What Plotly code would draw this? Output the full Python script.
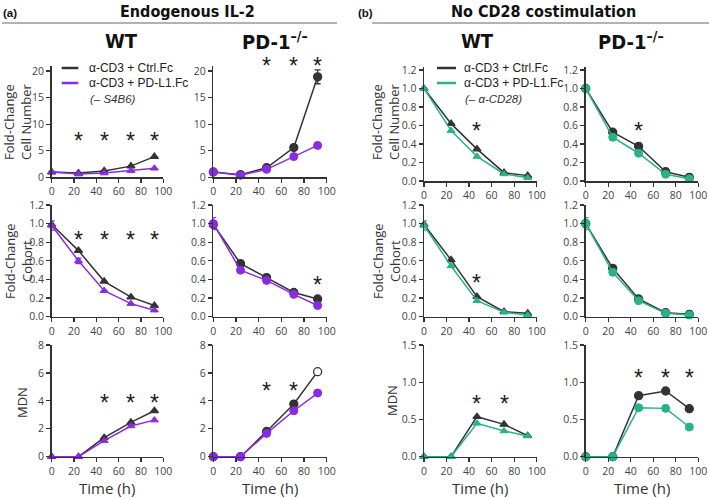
import plotly.graph_objects as go

W, H = 709, 498

TIME = [0, 24, 47, 71, 92]

# (a) Endogenous IL-2
a_wt_cell_ctrl = [1.0, 0.8, 1.2, 2.1, 3.9]
a_wt_cell_pdl1 = [1.0, 0.6, 0.8, 1.25, 1.7]
a_pd_cell_ctrl = [1.0, 0.5, 1.8, 5.6, 18.9]
a_pd_cell_ctrl_err = [0, 0, 0, 0, 1.3]
a_pd_cell_pdl1 = [1.0, 0.4, 1.5, 3.9, 6.0]
a_wt_coh_ctrl = [0.99, 0.71, 0.38, 0.21, 0.12]
a_wt_coh_pdl1 = [0.98, 0.60, 0.28, 0.14, 0.07]
a_wt_coh_pdl1_err = [0.05, 0.03, 0, 0, 0]
a_pd_coh_ctrl = [0.99, 0.57, 0.42, 0.26, 0.19]
a_pd_coh_pdl1 = [1.0, 0.50, 0.39, 0.24, 0.12]
a_pd_coh_pdl1_err = [0.065, 0.02, 0, 0, 0]
a_wt_mdn_ctrl = [0, 0, 1.36, 2.46, 3.29]
a_wt_mdn_pdl1 = [0, 0, 1.15, 2.2, 2.62]
a_pd_mdn_ctrl = [0, 0, 1.81, 3.77, 6.09]
a_pd_mdn_pdl1 = [0, 0, 1.67, 3.29, 4.56]

# (b) No CD28 costimulation
b_wt_cell_ctrl = [1.0, 0.62, 0.345, 0.09, 0.058]
b_wt_cell_pdl1 = [1.0, 0.545, 0.265, 0.076, 0.036]
b_pd_cell_ctrl = [1.0, 0.527, 0.375, 0.10, 0.04]
b_pd_cell_pdl1 = [1.0, 0.473, 0.30, 0.073, 0.025]
b_wt_coh_ctrl = [0.99, 0.61, 0.215, 0.054, 0.036]
b_wt_coh_pdl1 = [0.98, 0.545, 0.172, 0.047, 0.018]
b_wt_coh_pdl1_err = [0.05, 0, 0, 0, 0]
b_pd_coh_ctrl = [1.0, 0.52, 0.19, 0.043, 0.025]
b_pd_coh_pdl1 = [1.0, 0.477, 0.172, 0.036, 0.018]
b_pd_coh_pdl1_err = [0.065, 0, 0, 0, 0]
b_wt_mdn_ctrl = [0, 0, 0.537, 0.434, 0.282]
b_wt_mdn_pdl1 = [0, 0, 0.448, 0.345, 0.278]
b_pd_mdn_ctrl = [0, 0, 0.82, 0.882, 0.645]
b_pd_mdn_pdl1 = [0, 0, 0.658, 0.649, 0.399]

# significance asterisks: (x positions, y level)
STARS = {
    ("a", "wt", "cell"): ([24, 47, 71, 92], 7.7),
    ("a", "pd", "cell"): ([47, 71, 92], 21.8),
    ("a", "wt", "coh"): ([24, 47, 71, 92], 0.88),
    ("a", "pd", "coh"): ([92], 0.39),
    ("a", "wt", "mdn"): ([47, 71, 92], 4.2),
    ("a", "pd", "mdn"): ([47, 71], 5.06),
    ("b", "wt", "cell"): ([47], 0.59),
    ("b", "pd", "cell"): ([47], 0.59),
    ("b", "wt", "coh"): ([47], 0.42),
    ("b", "wt", "mdn"): ([47, 71], 0.775),
    ("b", "pd", "mdn"): ([47, 71, 92], 1.12),
}

DATA = {
    ("a", "wt", "cell"): (a_wt_cell_ctrl, a_wt_cell_pdl1, None, None),
    ("a", "pd", "cell"): (a_pd_cell_ctrl, a_pd_cell_pdl1, a_pd_cell_ctrl_err, None),
    ("a", "wt", "coh"): (a_wt_coh_ctrl, a_wt_coh_pdl1, None, a_wt_coh_pdl1_err),
    ("a", "pd", "coh"): (a_pd_coh_ctrl, a_pd_coh_pdl1, None, a_pd_coh_pdl1_err),
    ("a", "wt", "mdn"): (a_wt_mdn_ctrl, a_wt_mdn_pdl1, None, None),
    ("a", "pd", "mdn"): (a_pd_mdn_ctrl, a_pd_mdn_pdl1, None, None),
    ("b", "wt", "cell"): (b_wt_cell_ctrl, b_wt_cell_pdl1, None, None),
    ("b", "pd", "cell"): (b_pd_cell_ctrl, b_pd_cell_pdl1, None, None),
    ("b", "wt", "coh"): (b_wt_coh_ctrl, b_wt_coh_pdl1, None, b_wt_coh_pdl1_err),
    ("b", "pd", "coh"): (b_pd_coh_ctrl, b_pd_coh_pdl1, None, b_pd_coh_pdl1_err),
    ("b", "wt", "mdn"): (b_wt_mdn_ctrl, b_wt_mdn_pdl1, None, None),
    ("b", "pd", "mdn"): (b_pd_mdn_ctrl, b_pd_mdn_pdl1, None, None),
}

BLACK = "#333333"
PURPLE = "#8A2BE2"
GREEN = "#27B382"
GROUP_COLOR = {"a": PURPLE, "b": GREEN}

TICKFONT = dict(family="Open Sans, Noto Sans, sans-serif", size=10.5, color="#444")
LABFONT = dict(family="Open Sans, Noto Sans, sans-serif", size=13, color="#333")
NARROW = "Liberation Sans Narrow, Arial Narrow, DejaVu Sans Condensed, Liberation Sans, sans-serif"
LEGFONT = dict(family="Liberation Sans, Arial, sans-serif", size=12, color="#222")


def fx(px):
    return px / W


def fy(py):
    return 1 - py / H


COLS = {
    ("a", "wt"): (51.7, 163.3),
    ("a", "pd"): (213.3, 326.7),
    ("b", "wt"): (424.0, 536.7),
    ("b", "pd"): (585.7, 698.3),
}
# (bottom px, top px, range, dtick, tickformat)
ROWS = {
    ("a", "cell"): (177.3, 65.7, [0, 21], 5, None),
    ("b", "cell"): (181.0, 67.2, [0, 1.23], 0.2, ".1f"),
    ("a", "coh"): (316.7, 205.0, [0, 1.2], 0.2, ".1f"),
    ("b", "coh"): (316.7, 205.0, [0, 1.2], 0.2, ".1f"),
    ("a", "mdn"): (456.7, 345.0, [0, 8], 2, None),
    ("b", "mdn"): (456.7, 345.0, [0, 1.5], 0.5, ".1f"),
}

fig = go.Figure()
layout = {}
annotations = []
shapes = []

idx = 0
for g in ["a", "b"]:
    for c in ["wt", "pd"]:
        for r in ["cell", "coh", "mdn"]:
            idx += 1
            xa = "x" if idx == 1 else f"x{idx}"
            ya = "y" if idx == 1 else f"y{idx}"
            xkey = "xaxis" if idx == 1 else f"xaxis{idx}"
            ykey = "yaxis" if idx == 1 else f"yaxis{idx}"
            x0, x1 = COLS[(g, c)]
            yb, yt, yr, dt, tf = ROWS[(g, r)]
            axcommon = dict(
                showline=True, linewidth=1.5, linecolor=BLACK, showgrid=False,
                zeroline=False, ticks="outside", ticklen=4, tickwidth=1.2,
                tickcolor=BLACK, tickfont=TICKFONT, fixedrange=True,
                automargin=False,
            )
            layout[xkey] = dict(domain=[fx(x0), fx(x1)], range=[0, 100], dtick=20,
                                tick0=0, anchor=ya, **axcommon)
            yd = dict(domain=[fy(yb), fy(yt)], range=yr, dtick=dt, tick0=0,
                      anchor=xa, **axcommon)
            if tf:
                yd["tickformat"] = tf
            layout[ykey] = yd

            ctrl, pdl1, ectrl, epdl1 = DATA[(g, c, r)]
            sym = "triangle-up" if c == "wt" else "circle"
            msize = 7 if c == "wt" else 8
            col2 = GROUP_COLOR[g]
            mcolors = [BLACK] * len(TIME)
            if (g, c, r) == ("a", "pd", "mdn"):
                mcolors[-1] = "white"
            tr = dict(x=TIME, y=ctrl, xaxis=xa, yaxis=ya, mode="lines+markers",
                      line=dict(color=BLACK, width=1.5),
                      marker=dict(symbol=sym, size=msize, color=mcolors,
                                  line=dict(color=BLACK, width=1.3)),
                      cliponaxis=False, showlegend=False, hoverinfo="skip")
            if ectrl:
                tr["error_y"] = dict(type="data", array=ectrl, color=BLACK,
                                     thickness=1.3, width=3)
            fig.add_trace(go.Scatter(**tr))
            tr = dict(x=TIME, y=pdl1, xaxis=xa, yaxis=ya, mode="lines+markers",
                      line=dict(color=col2, width=1.5),
                      marker=dict(symbol=sym, size=msize, color=col2,
                                  line=dict(color=col2, width=1)),
                      cliponaxis=False, showlegend=False, hoverinfo="skip")
            if epdl1:
                tr["error_y"] = dict(type="data", array=epdl1, color=col2,
                                     thickness=1.3, width=3)
            fig.add_trace(go.Scatter(**tr))

            if (g, c, r) in STARS:
                xs, ylev = STARS[(g, c, r)]
                for xv in xs:
                    annotations.append(dict(
                        x=xv, y=(ylev - yr[0]) / (yr[1] - yr[0]),
                        xref=xa, yref=f"{ya} domain", text="*", showarrow=False,
                        font=dict(family="Liberation Sans, Arial, sans-serif",
                                  size=23, color="#222"),
                        xanchor="center", yanchor="middle", yshift=-5))

            if r == "mdn":
                annotations.append(dict(
                    x=fx((x0 + x1) / 2), y=fy(488), xref="paper", yref="paper",
                    text="Time (h)", showarrow=False,
                    font=dict(family=LABFONT["family"], size=15, color="#333"),
                    xanchor="center", yanchor="middle"))

YTITLES = [
    ("Fold-Change<br>Cell Number", 18, 122),
    ("Fold-Change<br>Cohort", 18, 261),
    ("MDN", 22, 403),
    ("Fold-Change<br>Cell Number", 386, 122),
    ("Fold-Change<br>Cohort", 386, 261),
    ("MDN", 392, 401),
]
for txt, px, py in YTITLES:
    annotations.append(dict(x=fx(px), y=fy(py), xref="paper", yref="paper",
                            text=txt, showarrow=False, textangle=-90,
                            font=LABFONT, xanchor="center", yanchor="middle"))

HEADERS = [
    ("<b>(a)</b>", 10, 13, 11.5, "Liberation Sans, Arial, sans-serif"),
    ("<b>Endogenous IL-2</b>", 188, 12, 16, NARROW),
    ("<b>(b)</b>", 365, 13, 11.5, "Liberation Sans, Arial, sans-serif"),
    ("<b>No CD28 costimulation</b>", 543, 12, 16, NARROW),
    ("<b>WT</b>", 121, 41, 20, NARROW),
    ("<b>PD-1<sup>–/–</sup></b>", 275, 41, 20, NARROW),
    ("<b>WT</b>", 478, 41, 20, NARROW),
    ("<b>PD-1<sup>–/–</sup></b>", 631, 41, 20, NARROW),
]
for txt, px, py, sz, fam in HEADERS:
    annotations.append(dict(x=fx(px), y=fy(py), xref="paper", yref="paper",
                            text=txt, showarrow=False,
                            font=dict(family=fam, size=sz, color="#111"),
                            xanchor="center", yanchor="middle"))

shapes.append(dict(type="line", xref="paper", yref="paper", x0=fx(2), x1=fx(337),
                   y0=fy(23), y1=fy(23), line=dict(color="#999", width=1.5)))
shapes.append(dict(type="line", xref="paper", yref="paper", x0=fx(372), x1=fx(709),
                   y0=fy(23), y1=fy(23), line=dict(color="#999", width=1.5)))

LEGENDS = [
    (61.7, 78.3, 86.5, PURPLE, "(– S4B6)"),
    (437.0, 456.0, 461.5, GREEN, "(– α-CD28)"),
]
for lx0, lx1, tx, col2, note in LEGENDS:
    for py, col, txt in [(68, BLACK, "α-CD3 + Ctrl.Fc"), (83, col2, "α-CD3 + PD-L1.Fc")]:
        shapes.append(dict(type="line", xref="paper", yref="paper", x0=fx(lx0),
                           x1=fx(lx1), y0=fy(py), y1=fy(py),
                           line=dict(color=col, width=2.5)))
        annotations.append(dict(x=fx(tx), y=fy(py), xref="paper", yref="paper",
                                text=txt, showarrow=False, font=LEGFONT,
                                xanchor="left", yanchor="middle"))
    annotations.append(dict(x=fx(tx + 1), y=fy(99), xref="paper", yref="paper",
                            text=f"<i>{note}</i>", showarrow=False,
                            font=dict(family=LEGFONT["family"], size=11.5, color="#333"),
                            xanchor="left", yanchor="middle"))

fig.update_layout(
    width=W, height=H, margin=dict(l=0, r=0, t=0, b=0, autoexpand=False),
    paper_bgcolor="white", plot_bgcolor="white",
    annotations=annotations, shapes=shapes, showlegend=False,
    **layout,
)

fig.write_html(
    "out.html",
    config={"displayModeBar": False, "staticPlot": True},
    post_script="document.body.style.margin='0';",
)
